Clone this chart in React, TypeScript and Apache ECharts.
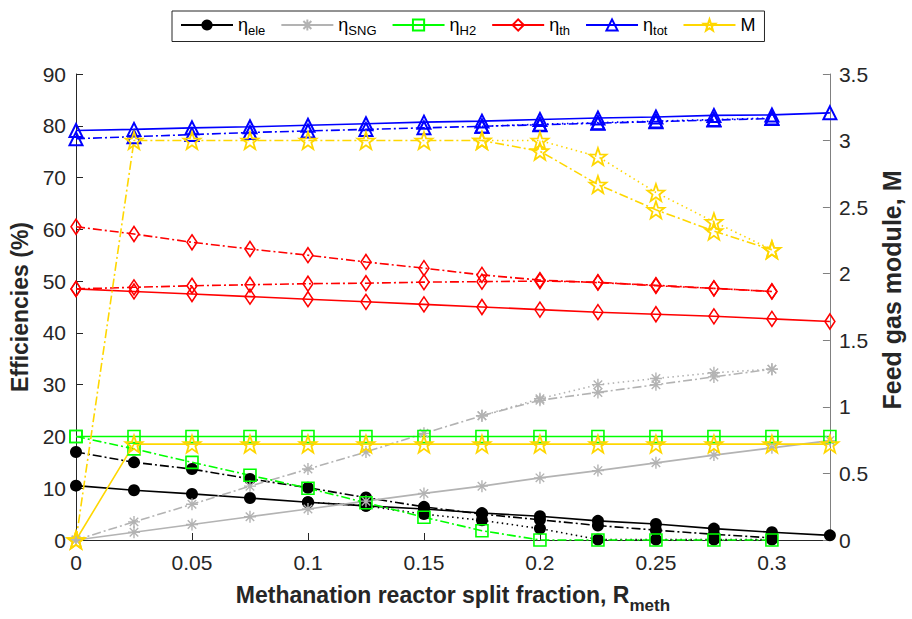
import React, { useEffect, useRef } from 'react';
import * as echarts from 'echarts';

// ---------------- data ----------------
const xs = [0, 0.025, 0.05, 0.075, 0.1, 0.125, 0.15, 0.175, 0.2, 0.225, 0.25, 0.275, 0.3, 0.325];

// electrical efficiency (%)
const eleSolid = [10.5, 9.6, 8.9, 8.1, 7.3, 6.6, 6.0, 5.2, 4.6, 3.7, 3.1, 2.2, 1.5, 0.9];
const eleDashDot = [17.0, 15.0, 13.7, 11.8, 10.1, 8.2, 6.4, 5.0, 3.9, 2.8, 1.9, 1.1, 0.4];
const eleDotted = [null, null, null, null, 7.3, 6.6, 5.0, 3.8, 2.2, 0.1, 0.1, 0.1, 0.1];

// SNG efficiency (%)
const sngSolid = [0, 1.5, 3.0, 4.5, 6.0, 7.5, 9.0, 10.4, 12.0, 13.4, 14.9, 16.4, 17.8, 19.2];
const sngDashDot = [0, 3.5, 6.9, 10.4, 13.7, 17.0, 20.6, 24.0, 27.0, 28.5, 30.0, 31.5, 33.0];
const sngDotted = [null, null, null, null, null, null, null, 24.0, 27.3, 30.0, 31.2, 32.3, 33.0];

// H2 efficiency (%)
const h2Solid = [20, 20, 20, 20, 20, 20, 20, 20, 20, 20, 20, 20, 20, 20];
const h2DashDot = [20, 17.6, 15.0, 12.5, 10.0, 7.2, 4.4, 1.8, 0, 0, 0, 0, 0];

// thermal efficiency (%)
const thSolid = [48.5, 48.0, 47.5, 47.0, 46.5, 46.0, 45.5, 45.0, 44.5, 44.0, 43.6, 43.2, 42.7, 42.2];
const thDashDotHigh = [60.5, 59.1, 57.5, 56.2, 55.0, 53.7, 52.5, 51.2, 50.2, 49.7, 49.2, 48.6, 48.0];
const thDashDotLow = [48.5, 48.8, 49.1, 49.3, 49.5, 49.6, 49.8, 49.9, 50.0, 49.8, 49.1, 48.6, 48.0];

// total efficiency (%)
const totSolid = [79.1, 79.3, 79.6, 79.8, 80.1, 80.4, 80.7, 80.9, 81.2, 81.5, 81.7, 82.0, 82.1, 82.5];
const totDashDot = [77.5, 77.9, 78.3, 78.7, 79.0, 79.3, 79.6, 79.9, 80.2, 80.5, 80.8, 81.1, 81.4];
const totDotted = [null, null, null, null, null, null, null, 79.9, 80.3, 80.6, 80.9, 81.2, 81.5];

// feed gas module M (right axis)
const mSolid = [0, 0.72, 0.72, 0.72, 0.72, 0.72, 0.72, 0.72, 0.72, 0.72, 0.72, 0.72, 0.72, 0.72];
const mDashDot = [0, 3.0, 3.0, 3.0, 3.0, 3.0, 3.0, 3.0, 2.92, 2.67, 2.48, 2.32, 2.18];
const mDotted = [null, null, null, null, null, null, null, 3.0, 3.0, 2.88, 2.61, 2.39, 2.18];

const legendNames = ['ele', 'SNG', 'H2', 'th', 'tot', 'M'];
const leftTicks = { min: 0, max: 90, interval: 10 };
const rightTicks = { min: 0, max: 3.5, interval: 0.5 };
const xTicks = { min: 0, max: 0.325, interval: 0.05 };

// ---------------- styles ----------------
const FONT = "'Liberation Sans', Arial, Helvetica, sans-serif";
const TXT = '#262626';
const C = {
  ele: '#000000',
  sng: '#B3B3B3',
  h2: '#00FF00',
  th: '#FF0000',
  tot: '#0000FF',
  m: '#FFD700',
};
const STAR =
  'path://M0,-10 L2.35,-3.24 L9.51,-3.09 L3.8,1.24 L5.88,8.09 L0,4.1 L-5.88,8.09 L-3.8,1.24 L-9.51,-3.09 L-2.35,-3.24 Z';
const ASTER =
  'path://M0,-10 L0,10 M-10,0 L10,0 M-7.07,-7.07 L7.07,7.07 M-7.07,7.07 L7.07,-7.07';

const DASHDOT = [9, 3, 2, 3];
const DOTTED = [1.5, 3.5];

type Mk = { symbol: string; size: number | number[]; filled: boolean; bw: number };
const MK: Record<string, Mk> = {
  ele: { symbol: 'circle', size: 12, filled: true, bw: 0 },
  sng: { symbol: ASTER, size: 12, filled: false, bw: 1.4 },
  h2: { symbol: 'rect', size: 12, filled: false, bw: 1.6 },
  th: { symbol: 'diamond', size: [10, 15], filled: false, bw: 1.6 },
  tot: { symbol: 'triangle', size: 13, filled: false, bw: 2 },
  m: { symbol: STAR, size: 17, filled: false, bw: 1.8 },
};

function pairs(vals: (number | null)[]) {
  const out: number[][] = [];
  vals.forEach((v, i) => {
    if (v !== null && v !== undefined) out.push([xs[i], v]);
  });
  return out;
}

function mkSeries(name: string, key: keyof typeof C, vals: (number | null)[], dash: any, yAxisIndex = 0) {
  const color = C[key];
  const mk = MK[key];
  return {
    type: 'line',
    name,
    yAxisIndex,
    data: pairs(vals),
    symbol: mk.symbol,
    symbolSize: mk.size,
    showSymbol: true,
    clip: false,
    lineStyle: { color, width: 1.6, type: dash },
    itemStyle: mk.filled
      ? { color, borderWidth: 0 }
      : { color: 'rgba(0,0,0,0)', borderColor: color, borderWidth: mk.bw },
    emphasis: { disabled: true },
    z: 2,
  };
}

function buildOption() {
  const series = [
    mkSeries('ele', 'ele', eleSolid, 'solid'),
    mkSeries('ele_b', 'ele', eleDashDot, DASHDOT),
    mkSeries('ele_c', 'ele', eleDotted, DOTTED),
    mkSeries('SNG', 'sng', sngSolid, 'solid'),
    mkSeries('SNG_b', 'sng', sngDashDot, DASHDOT),
    mkSeries('SNG_c', 'sng', sngDotted, DOTTED),
    mkSeries('H2', 'h2', h2Solid, 'solid'),
    mkSeries('H2_b', 'h2', h2DashDot, DASHDOT),
    mkSeries('th', 'th', thSolid, 'solid'),
    mkSeries('th_b', 'th', thDashDotHigh, DASHDOT),
    mkSeries('th_c', 'th', thDashDotLow, DASHDOT),
    mkSeries('tot', 'tot', totSolid, 'solid'),
    mkSeries('tot_b', 'tot', totDashDot, DASHDOT),
    mkSeries('tot_c', 'tot', totDotted, DOTTED),
    mkSeries('M', 'm', mSolid, 'solid', 1),
    mkSeries('M_b', 'm', mDashDot, DASHDOT, 1),
    mkSeries('M_c', 'm', mDotted, DOTTED, 1),
  ];

  const axisLabel = { fontSize: 21, color: TXT, fontFamily: FONT };

  return {
    animation: false,
    backgroundColor: '#ffffff',
    textStyle: { fontFamily: FONT },
    grid: { left: 76, right: 76, top: 74, bottom: 78, containLabel: false },
    legend: {
      data: legendNames,
      left: 172,
      top: 11,
      orient: 'horizontal',
      itemWidth: 52,
      itemHeight: 14,
      itemGap: 15,
      padding: [5, 9, 5, 8],
      borderColor: TXT,
      borderWidth: 1,
      backgroundColor: '#ffffff',
      selectedMode: false,
      formatter: (n: string) => (n === 'M' ? '{m|M}' : '{g|η}{s|' + n + '}'),
      textStyle: {
        color: '#000',
        fontFamily: FONT,
        rich: {
          g: { fontSize: 18, fontFamily: FONT, color: '#000' },
          s: { fontSize: 13, fontFamily: FONT, color: '#000', padding: [10, 0, 0, 0] },
          m: { fontSize: 18, fontFamily: FONT, color: '#000' },
        },
      },
    },
    xAxis: {
      type: 'value',
      min: xTicks.min,
      max: xTicks.max,
      interval: xTicks.interval,
      name: '{t|Methanation reactor split fraction, R}{s|meth}',
      nameLocation: 'middle',
      nameGap: 35,
      nameTextStyle: {
        rich: {
          t: { fontSize: 23, fontWeight: 'bold', color: TXT, fontFamily: FONT },
          s: { fontSize: 17, fontWeight: 'bold', color: TXT, fontFamily: FONT, padding: [22, 0, 0, 0] },
        },
      },
      axisLine: { show: true, onZero: false, lineStyle: { color: TXT, width: 1 } },
      axisTick: { show: true, inside: true, length: 7, lineStyle: { color: TXT } },
      axisLabel: {
        ...axisLabel,
        margin: 12,
        formatter: (v: number) => {
          const k = Math.round(v / 0.05);
          if (Math.abs(v - k * 0.05) > 1e-6) return '';
          return String(+(k * 0.05).toFixed(2));
        },
      },
      splitLine: { show: false },
    },
    yAxis: [
      {
        type: 'value',
        position: 'left',
        min: leftTicks.min,
        max: leftTicks.max,
        interval: leftTicks.interval,
        name: 'Efficiencies (%)',
        nameLocation: 'middle',
        nameRotate: 90,
        nameGap: 40,
        nameTextStyle: { fontSize: 23, fontWeight: 'bold', color: TXT, fontFamily: FONT },
        axisLine: { show: true, lineStyle: { color: TXT, width: 1 } },
        axisTick: { show: true, inside: true, length: 7, lineStyle: { color: TXT } },
        axisLabel: { ...axisLabel, margin: 10 },
        splitLine: { show: false },
      },
      {
        type: 'value',
        position: 'right',
        min: rightTicks.min,
        max: rightTicks.max,
        interval: rightTicks.interval,
        name: 'Feed gas module, M',
        nameLocation: 'middle',
        nameRotate: 90,
        nameGap: 44,
        nameTextStyle: {
          fontSize: 25,
          fontWeight: 'bold',
          color: TXT,
          fontFamily: FONT,
          padding: [0, 0, 0, 34],
        },
        axisLine: { show: true, lineStyle: { color: '#808080', width: 1 } },
        axisTick: { show: true, inside: true, length: 7, lineStyle: { color: '#808080' } },
        axisLabel: { ...axisLabel, margin: 9 },
        splitLine: { show: false },
      },
    ],
    series,
  };
}

export default function App() {
  const ref = useRef<HTMLDivElement>(null);
  useEffect(() => {
    if (!ref.current) return;
    const chart = echarts.init(ref.current, null, { renderer: 'svg' });
    chart.setOption(buildOption() as any);
    return () => chart.dispose();
  }, []);
  return (
    <div
      ref={ref}
      style={{ position: 'fixed', left: 0, top: 0, width: 912, height: 619, background: '#fff' }}
    />
  );
}
